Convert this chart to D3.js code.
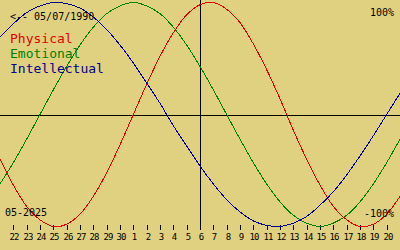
<!DOCTYPE html>
<html>
<head>
<meta charset="utf-8">
<script src="https://cdn.jsdelivr.net/npm/d3@7"></script>
<style>
  html, body { margin: 0; padding: 0; background: #e0d181; }
  svg { display: block; }
</style>
</head>
<body>
<div id="chart"></div>
<script>
// day labels along the bottom (22 Apr .. 20 May)
const dayLabels = ["22","23","24","25","26","27","28","29","30",
  "1","2","3","4","5","6","7","8","9","10","11","12","13","14","15","16","17","18","19","20"];
const todayLabel = "6";
const birthText = "<-- 05/07/1990";
const monthText = "05-2025";

// cycle values, one per day slot from the left edge to the right edge
const physical = [-0.40,-0.63,-0.82,-0.94,-1.00,-0.98,-0.89,-0.73,-0.52,-0.27,0.00,
  0.27,0.52,0.73,0.89,0.98,1.00,0.94,0.82,0.63,0.40,0.14,-0.14,-0.40,-0.63,-0.82,
  -0.94,-1.00,-0.98,-0.89,-0.73];
const emotional = [-0.62,-0.43,-0.22,0.00,0.22,0.43,0.62,0.78,0.90,0.97,1.00,
  0.97,0.90,0.78,0.62,0.43,0.22,0.00,-0.22,-0.43,-0.62,-0.78,-0.90,-0.97,-1.00,
  -0.97,-0.90,-0.78,-0.62,-0.43,-0.22];
const intellectual = [0.69,0.81,0.91,0.97,1.00,0.99,0.95,0.87,0.76,0.62,0.46,
  0.28,0.10,-0.10,-0.28,-0.46,-0.62,-0.76,-0.87,-0.95,-0.99,-1.00,-0.97,-0.91,
  -0.81,-0.69,-0.54,-0.37,-0.19,0.00,0.19];

const series = [
  { name: "Physical", color: "#e00000", values: physical },
  { name: "Emotional", color: "#008000", values: emotional },
  { name: "Intellectual", color: "#000090", values: intellectual }
];

const width = 400;
const height = 250;

const xScale = d3.scaleLinear().domain([0, 30]).range([0, width]);
const yScale = d3.scaleLinear().domain([-1, 1]).range([226.5, 2.5]);

const line = d3.line()
  .x((d, i) => xScale(i))
  .y((d) => yScale(d))
  .curve(d3.curveCatmullRom);

const svg = d3.create("svg").attr("width", width).attr("height", height);

svg.append("rect").attr("width", width).attr("height", height).attr("fill", "#e0d181");

// axes: horizontal zero line and the "today" marker
const todayIdx = dayLabels.indexOf(todayLabel) + 1;
svg.append("line")
  .attr("x1", 0).attr("x2", width)
  .attr("y1", Math.round(yScale(0)) + 0.5).attr("y2", Math.round(yScale(0)) + 0.5)
  .attr("stroke", "#000").attr("stroke-width", 1);
svg.append("line")
  .attr("x1", Math.round(xScale(todayIdx)) + 0.5).attr("x2", Math.round(xScale(todayIdx)) + 0.5)
  .attr("y1", 0).attr("y2", 230)
  .attr("stroke", "#000").attr("stroke-width", 1);

// day ticks
const ticks = svg.append("g");
dayLabels.forEach((lab, i) => {
  const x = Math.round(xScale(i + 1)) + 0.5;
  ticks.append("line")
    .attr("x1", x).attr("x2", x).attr("y1", 225).attr("y2", 230)
    .attr("stroke", "#000").attr("stroke-width", 1);
  ticks.append("text")
    .attr("x", x + 0.5).attr("y", 240)
    .attr("text-anchor", "middle")
    .attr("font-family", "DejaVu Sans Mono")
    .attr("font-size", 9)
    .attr("letter-spacing", -1)
    .attr("fill", "#000")
    .text(lab);
});

series.forEach((s) => {
  svg.append("path")
    .attr("fill", "none")
    .attr("stroke", s.color)
    .attr("stroke-width", 1)
    .attr("shape-rendering", "crispEdges")
    .attr("d", line(s.values));
});

// texts
const mono = "DejaVu Sans Mono";
svg.append("text").attr("x", 10).attr("y", 20).attr("font-family", mono)
  .attr("font-size", 10).attr("fill", "#000").text(birthText);
series.forEach((s, i) => {
  svg.append("text").attr("x", 10).attr("y", 43 + i * 15).attr("font-family", mono)
    .attr("font-size", 13).attr("fill", s.color).text(s.name);
});
svg.append("text").attr("x", 394).attr("y", 16).attr("text-anchor", "end")
  .attr("font-family", mono).attr("font-size", 10).attr("fill", "#000").text("100%");
svg.append("text").attr("x", 394).attr("y", 217).attr("text-anchor", "end")
  .attr("font-family", mono).attr("font-size", 10).attr("fill", "#000").text("-100%");
svg.append("text").attr("x", 5).attr("y", 216)
  .attr("font-family", mono).attr("font-size", 10).attr("fill", "#000").text(monthText);

document.getElementById("chart").append(svg.node());
</script>
</body>
</html>
